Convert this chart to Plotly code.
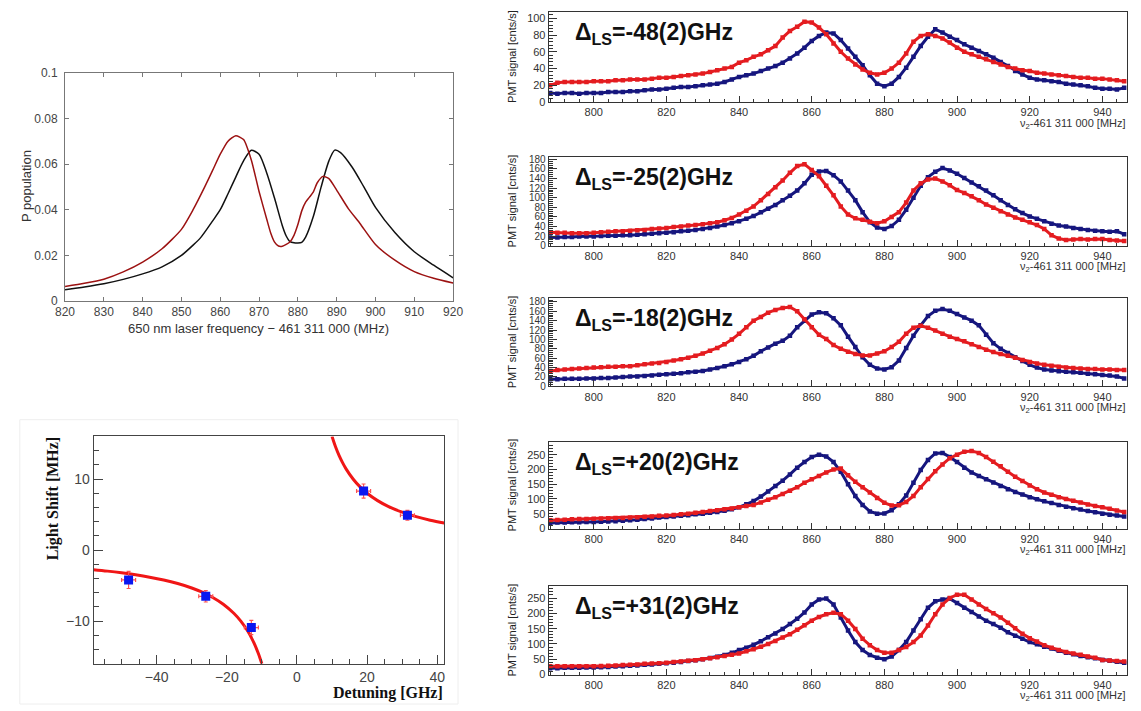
import plotly.graph_objects as go

W, H = 1141, 711


def px(x):
    return x / W


def py(y):
    return 1 - y / H


# ---------------- data ----------------
# top-left: simulated P population
SIM_BLACK_X = [820, 825, 830, 835, 840, 845, 850, 853, 855, 858, 860, 862, 864, 866, 868, 870, 872,
               874, 876, 877, 878, 879, 880, 881, 882, 884, 886, 888, 889.5, 891, 894, 897, 900,
               905, 910, 915, 920]
SIM_BLACK_Y = [0.0050, 0.0062, 0.0076, 0.0095, 0.0119, 0.0150, 0.0200, 0.0245, 0.0279, 0.0350,
               0.0400, 0.0470, 0.0543, 0.0614, 0.0660, 0.0643, 0.0560, 0.0450, 0.0330, 0.0285,
               0.0260, 0.0255, 0.0254, 0.0257, 0.0280, 0.0371, 0.0500, 0.0614, 0.0661, 0.0650,
               0.0586, 0.0500, 0.0410, 0.0300, 0.0216, 0.0157, 0.0102]
SIM_RED_X = [820, 825, 830, 835, 840, 845, 850, 853, 856, 858, 860, 862, 864, 866, 868, 870, 872,
             873, 874, 875, 876, 877, 878, 879, 880, 881, 882, 883, 884, 885, 886.5, 888, 890,
             893, 896, 900, 905, 910, 915, 920]
SIM_RED_Y = [0.0064, 0.0078, 0.0096, 0.0128, 0.0171, 0.0229, 0.0314, 0.0400, 0.0500, 0.0571,
             0.0643, 0.0700, 0.0724, 0.0707, 0.0618, 0.0480, 0.0357, 0.0298, 0.0258, 0.0241,
             0.0240, 0.0248, 0.0260, 0.0288, 0.0335, 0.0395, 0.0433, 0.0455, 0.0478, 0.0518,
             0.0546, 0.0536, 0.0486, 0.0405, 0.0340, 0.0248, 0.0179, 0.0129, 0.0100, 0.0079]

# bottom-left: light shift vs detuning
DETUNING = [-48, -26, -13, 19, 31.5]
LIGHT_SHIFT = [-4.2, -6.5, -10.9, 8.3, 4.9]
DETUNING_ERR = [2, 2, 2, 2, 2]
SHIFT_ERR = [1.2, 0.8, 1.0, 1.0, 0.7]
FIT_NEG_X = [-58, -54, -50, -46, -42, -38, -34, -30, -27, -24, -21, -18, -16, -14, -13, -12,
             -11, -10.5, -10]
FIT_NEG_Y = [-2.76, -2.96, -3.2, -3.48, -3.81, -4.21, -4.71, -5.33, -5.93, -6.67, -7.62, -8.89,
             -10.0, -11.43, -12.31, -13.33, -14.55, -15.24, -16.0]
FIT_POS_X = [10, 10.5, 11, 12, 13, 14, 16, 18, 20, 23, 26, 30, 34, 38, 42]
FIT_POS_Y = [16.0, 15.24, 14.55, 13.33, 12.31, 11.43, 10.0, 8.89, 8.0, 6.96, 6.15, 5.33, 4.71,
             4.21, 3.81]

# right: PMT signal scans (frequency grid, 2 MHz)
FREQ = list(range(788, 948, 2))
LS_LABELS = ["-48(2)", "-25(2)", "-18(2)", "+20(2)", "+31(2)"]

BLUE_1 = [11, 10, 11, 11, 10, 11, 11, 11, 12, 12,
          12, 13, 13, 14, 15, 15, 16, 17, 18, 18,
          19, 20, 21, 22, 24, 27, 30, 32, 34, 37,
          40, 43, 47, 52, 58, 65, 73, 79, 83, 82,
          74, 64, 54, 44, 32, 22, 19, 22, 30, 41,
          54, 67, 78, 87, 83, 78, 74, 69, 65, 61,
          57, 53, 48, 43, 37, 33, 29, 27, 26, 25,
          24, 22, 21, 20, 19, 17, 16, 16, 15, 17]
RED_1 = [20, 23, 24, 24, 24, 24, 25, 25, 25, 26,
         26, 27, 27, 27, 28, 29, 29, 30, 31, 32,
         33, 34, 36, 38, 40, 42, 47, 50, 54, 57,
         62, 67, 77, 85, 90, 96, 95, 89, 81, 70,
         60, 52, 45, 39, 35, 33, 35, 40, 47, 58,
         72, 79, 81, 79, 76, 71, 65, 60, 57, 54,
         51, 48, 45, 42, 40, 38, 37, 35, 34, 33,
         32, 31, 30, 29, 29, 28, 28, 27, 26, 25]
BLUE_2 = [17, 17, 18, 18, 19, 19, 19, 20, 21, 21,
          22, 22, 23, 24, 25, 26, 27, 28, 30, 31,
          33, 35, 37, 40, 43, 47, 51, 56, 62, 70,
          77, 85, 95, 104, 115, 130, 148, 155, 156, 147,
          134, 115, 95, 70, 49, 38, 35, 41, 54, 75,
          100, 125, 143, 154, 162, 157, 150, 141, 132, 124,
          115, 105, 95, 85, 76, 68, 61, 56, 51, 46,
          42, 40, 37, 35, 33, 31, 30, 29, 30, 24]
RED_2 = [28, 27, 27, 26, 26, 26, 27, 28, 29, 30,
         30, 31, 32, 33, 35, 36, 37, 39, 40, 42,
         43, 45, 47, 49, 53, 58, 65, 73, 82, 95,
         108, 122, 136, 152, 166, 170, 158, 145, 125, 105,
         82, 65, 57, 54, 50, 47, 51, 60, 70, 90,
         115, 130, 138, 140, 134, 126, 116, 110, 103, 95,
         86, 79, 72, 65, 59, 54, 49, 43, 35, 22,
         15, 12, 13, 14, 13, 14, 14, 12, 11, 10]
BLUE_3 = [15, 15, 16, 16, 16, 17, 17, 18, 18, 19,
          20, 21, 21, 22, 23, 25, 26, 27, 28, 30,
          31, 33, 36, 39, 43, 47, 52, 58, 65, 75,
          83, 91, 97, 108, 126, 140, 153, 158, 156, 145,
          130, 106, 84, 62, 46, 38, 36, 41, 55, 82,
          108, 130, 150, 161, 165, 161, 154, 147, 140, 130,
          110, 92, 80, 71, 62, 54, 46, 40, 36, 34,
          32, 31, 30, 29, 27, 26, 24, 23, 21, 17]
RED_3 = [33, 35, 36, 37, 38, 39, 40, 41, 42, 42,
         43, 43, 45, 47, 49, 50, 52, 55, 58, 61,
         65, 70, 76, 82, 90, 100, 112, 126, 140, 148,
         157, 163, 167, 169, 160, 143, 126, 110, 101, 88,
         80, 74, 69, 66, 66, 70, 75, 84, 95, 112,
         125, 129, 125, 119, 112, 106, 101, 96, 90, 84,
         78, 73, 69, 65, 61, 56, 52, 49, 46, 44,
         42, 40, 39, 38, 37, 37, 36, 36, 35, 35]
BLUE_4 = [19, 20, 20, 21, 21, 22, 22, 23, 24, 25,
          26, 28, 30, 32, 34, 37, 39, 41, 43, 45,
          48, 50, 53, 56, 60, 65, 72, 82, 93, 108,
          125, 144, 162, 183, 206, 225, 242, 250, 244, 225,
          192, 150, 110, 80, 58, 50, 51, 62, 82, 112,
          155, 198, 232, 254, 256, 242, 225, 206, 190, 178,
          167, 156, 144, 133, 124, 115, 106, 99, 92, 86,
          80, 74, 69, 64, 59, 55, 50, 47, 44, 41]
RED_4 = [28, 29, 30, 31, 32, 32, 33, 34, 35, 36,
         36, 37, 38, 40, 41, 43, 44, 46, 48, 50,
         53, 56, 59, 62, 65, 68, 72, 76, 80, 88,
         97, 106, 117, 128, 140, 155, 167, 178, 190, 200,
         203, 180, 158, 140, 122, 103, 87, 78, 79, 90,
         110, 140, 168, 194, 217, 238, 250, 260, 262, 256,
         242, 226, 211, 192, 175, 161, 146, 133, 122, 114,
         106, 100, 94, 88, 81, 76, 72, 67, 61, 56]
BLUE_5 = [21, 21, 22, 22, 22, 23, 23, 24, 25, 26,
          27, 29, 30, 32, 33, 35, 37, 39, 41, 44,
          47, 50, 54, 58, 64, 71, 80, 88, 97, 109,
          122, 134, 149, 165, 182, 203, 229, 245, 248, 229,
          186, 144, 106, 80, 64, 55, 50, 59, 80, 106,
          144, 181, 218, 239, 245, 248, 234, 218, 204, 190,
          176, 165, 153, 138, 127, 117, 106, 99, 91, 85,
          78, 71, 66, 61, 57, 53, 48, 45, 42, 39]
RED_5 = [27, 27, 27, 27, 27, 27, 27, 28, 29, 30,
         31, 32, 33, 35, 36, 37, 39, 41, 43, 45,
         47, 50, 53, 57, 61, 65, 69, 76, 83, 91,
         100, 110, 121, 132, 146, 161, 176, 188, 197, 202,
         197, 176, 149, 117, 96, 80, 71, 71, 80, 90,
         106, 128, 160, 197, 229, 250, 261, 261, 245, 229,
         214, 200, 186, 169, 151, 133, 119, 108, 96, 88,
         80, 74, 69, 65, 59, 55, 48, 46, 44, 43]

BLUE_SERIES = [BLUE_1, BLUE_2, BLUE_3, BLUE_4, BLUE_5]
RED_SERIES = [RED_1, RED_2, RED_3, RED_4, RED_5]
Y_MAX = [108, 185, 188, 292, 288]
Y_DTICK = [20, 20, 20, 50, 50]
Y_MINOR = [4, 4, 4, 10, 10]

# ---------------- styling ----------------
SANS = "Liberation Sans, Arial, Helvetica, sans-serif"
SERIF = "Liberation Serif, Times New Roman, serif"
NAVY = "#16167e"
RED = "#e41c20"

fig = go.Figure()

# top-left simulation
fig.add_trace(go.Scatter(x=SIM_BLACK_X, y=SIM_BLACK_Y, mode="lines",
                         line=dict(color="#111111", width=1.5, shape="spline", smoothing=0.7),
                         xaxis="x", yaxis="y", hoverinfo="skip"))
fig.add_trace(go.Scatter(x=SIM_RED_X, y=SIM_RED_Y, mode="lines",
                         line=dict(color="#9c1212", width=1.5, shape="spline", smoothing=0.6),
                         xaxis="x", yaxis="y", hoverinfo="skip"))

# bottom-left fit + data
for fx, fy in [(FIT_NEG_X, FIT_NEG_Y), (FIT_POS_X, FIT_POS_Y)]:
    fig.add_trace(go.Scatter(x=fx, y=fy, mode="lines",
                             line=dict(color="#f01616", width=3, shape="spline"),
                             xaxis="x2", yaxis="y2", hoverinfo="skip"))
fig.add_trace(go.Scatter(x=DETUNING, y=LIGHT_SHIFT, mode="markers",
                         marker=dict(symbol="square", size=9, color="#0a16f0"),
                         error_x=dict(type="data", array=DETUNING_ERR, color="#ff5050",
                                      thickness=1.2, width=2),
                         error_y=dict(type="data", array=SHIFT_ERR, color="#ff5050",
                                      thickness=1.2, width=2),
                         xaxis="x2", yaxis="y2"))

# right panels
RIGHT_X0, RIGHT_X1 = 548.3, 1137.0
PANEL_TOPS = [4.7, 153, 297, 444, 591]
PANEL_BOTS = [97, 243.5, 387, 532, 681]

for i in range(5):
    ax = str(i + 3)
    fig.add_trace(go.Scatter(x=FREQ, y=BLUE_SERIES[i], mode="lines+markers",
                             line=dict(color=NAVY, width=3),
                             marker=dict(symbol="square", size=4.5, color=NAVY),
                             xaxis="x" + ax, yaxis="y" + ax, hoverinfo="skip"))
    fig.add_trace(go.Scatter(x=FREQ, y=RED_SERIES[i], mode="lines+markers",
                             line=dict(color=RED, width=3),
                             marker=dict(symbol="square", size=4.5, color=RED),
                             xaxis="x" + ax, yaxis="y" + ax, hoverinfo="skip"))

layout = dict(width=W, height=H, margin=dict(l=0, r=0, t=0, b=0),
              paper_bgcolor="white", plot_bgcolor="white", showlegend=False,
              font=dict(family=SANS))

# top-left axes (MATLAB style)
tl_common = dict(ticks="inside", ticklen=4, mirror="ticks", showline=True, linecolor="#777",
                 linewidth=1, tickcolor="#777", showgrid=False, zeroline=False,
                 tickfont=dict(size=12, color="#444", family=SANS))
layout["xaxis"] = dict(domain=[px(56), px(451)], range=[820, 920], dtick=10, tick0=820,
                       anchor="y", **tl_common)
layout["yaxis"] = dict(domain=[py(300), py(67)], range=[0, 0.1], dtick=0.02, tick0=0,
                       ticklabelstandoff=4, anchor="x", **tl_common)

# bottom-left axes (ROOT style)
bl_common = dict(ticks="inside", ticklen=9, mirror=True, showline=True, linecolor="#444",
                 linewidth=1, tickcolor="#444", showgrid=False, zeroline=False,
                 tickfont=dict(size=14, color="#444", family=SANS))
layout["xaxis2"] = dict(domain=[px(85), px(442)], range=[-58, 42], dtick=20, tick0=0,
                        minor=dict(dtick=5, tick0=0, ticks="inside", ticklen=5, tickcolor="#444"),
                        anchor="y2", **bl_common)
layout["yaxis2"] = dict(domain=[py(670), py(438)], range=[-16, 16], dtick=10, tick0=0,
                        minor=dict(dtick=2, tick0=0, ticks="inside", ticklen=5, tickcolor="#444"),
                        anchor="x2", **bl_common)

# right axes
r_common = dict(ticks="inside", mirror=True, showline=True, linecolor="#333",
                linewidth=1, tickcolor="#333", showgrid=False, zeroline=False)
annotations = []
for i in range(5):
    ax = str(i + 3)
    top, bot = PANEL_TOPS[i], PANEL_BOTS[i]
    ysize = 10 if Y_DTICK[i] == 20 and Y_MAX[i] > 150 else 11
    layout["xaxis" + ax] = dict(domain=[px(RIGHT_X0), px(RIGHT_X1)], range=[787.6, 946.8],
                                dtick=20, tick0=800, ticklen=6,
                                minor=dict(dtick=4, tick0=800, ticks="inside", ticklen=3,
                                           tickcolor="#333"),
                                tickfont=dict(size=11, color="#333", family=SANS),
                                anchor="y" + ax, **r_common)
    layout["yaxis" + ax] = dict(domain=[py(bot), py(top)], range=[0, Y_MAX[i]],
                                dtick=Y_DTICK[i], tick0=0, ticklen=8,
                                minor=dict(dtick=Y_MINOR[i], tick0=0, ticks="inside", ticklen=4,
                                           tickcolor="#333"),
                                tickfont=dict(size=ysize, color="#333", family=SANS),
                                anchor="x" + ax, **r_common)
    annotations.append(dict(text="<b>\u0394<sub>LS</sub>=" + LS_LABELS[i] + "GHz</b>",
                            x=px(573), y=py(top + 22), xref="paper", yref="paper",
                            xanchor="left", yanchor="middle", showarrow=False,
                            font=dict(size=23, color="#111", family=SANS)))
    annotations.append(dict(text="\u03bd<sub>2</sub>-461 311 000 [MHz]",
                            x=px(RIGHT_X1 + 1), y=py(bot + 13), xref="paper", yref="paper",
                            xanchor="right", yanchor="top", showarrow=False,
                            font=dict(size=11, color="#333", family=SANS)))
    annotations.append(dict(text="PMT signal [cnts/s]", textangle=-90,
                            x=px(511), y=py((top + bot) / 2), xref="paper", yref="paper",
                            xanchor="center", yanchor="middle", showarrow=False,
                            font=dict(size=11, color="#222", family=SANS)))

# top-left titles
annotations.append(dict(text="650 nm laser frequency \u2212 461 311 000 (MHz)",
                        x=px(253), y=py(328), xref="paper", yref="paper",
                        xanchor="center", yanchor="middle", showarrow=False,
                        font=dict(size=13, color="#333", family=SANS)))
annotations.append(dict(text="P population", textangle=-90,
                        x=px(17), y=py(183), xref="paper", yref="paper",
                        xanchor="center", yanchor="middle", showarrow=False,
                        font=dict(size=13, color="#333", family=SANS)))
# bottom-left titles
annotations.append(dict(text="<b>Light Shift [MHz]</b>", textangle=-90,
                        x=px(44), y=py(501), xref="paper", yref="paper",
                        xanchor="center", yanchor="middle", showarrow=False,
                        font=dict(size=16, color="#111", family=SERIF)))
annotations.append(dict(text="<b>Detuning [GHz]</b>",
                        x=px(443), y=py(700), xref="paper", yref="paper",
                        xanchor="right", yanchor="middle", showarrow=False,
                        font=dict(size=16, color="#111", family=SERIF)))

layout["annotations"] = annotations
layout["shapes"] = [dict(type="rect", xref="paper", yref="paper",
                         x0=px(10), x1=px(456), y0=py(711), y1=py(421),
                         line=dict(color="#eeeeee", width=1), layer="below")]

fig.update_layout(**layout)
fig.write_html("out.html",
               config=dict(displayModeBar=False),
               post_script="document.body.style.margin='0';"
                           "document.body.style.overflow='hidden';")
